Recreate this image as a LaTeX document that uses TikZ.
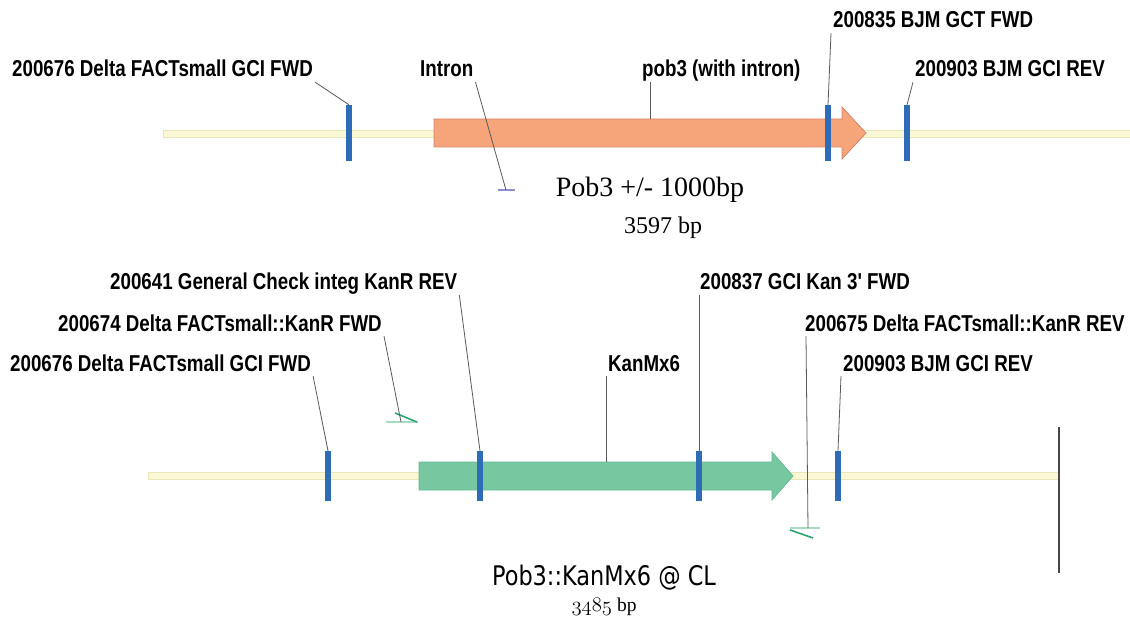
\documentclass[tikz,border=0pt]{standalone}
\usepackage{fontspec}
\setmainfont{Liberation Serif}
\newfontfamily\featfont[FakeStretch=0.815]{Liberation Sans}
\newfontfamily\constructfont[FakeStretch=0.83]{DejaVu Sans}
\usetikzlibrary{calc}
\definecolor{backbone}{HTML}{FBF8D6}
\definecolor{backline}{HTML}{EAE6BA}
\definecolor{pobfill}{HTML}{F6A57B}
\definecolor{pobline}{HTML}{D9826A}
\definecolor{kanfill}{HTML}{77C7A1}
\definecolor{kanline}{HTML}{63BB90}
\definecolor{barblue}{HTML}{2E6DB6}
\definecolor{leadgray}{HTML}{5A5A5A}
\definecolor{tickblue}{HTML}{8F8FD0}
\definecolor{primdark}{HTML}{2BA56B}
\definecolor{primlight}{HTML}{A8DCC0}

\tikzset{
  feat/.style={font=\featfont\bfseries\fontsize{23}{26}\selectfont, inner sep=2pt, text depth=3pt},
  bar/.style={rectangle, fill=barblue, inner sep=0pt, minimum width=6pt, minimum height=56pt},
  leader/.style={draw=leadgray, line width=0.8pt},
  track/.style={fill=backbone, draw=backline, line width=0.8pt}
}

\begin{document}
\begin{tikzpicture}[x=1pt, y=-1pt]
  \useasboundingbox (0,0) rectangle (1130,628);

  % Pob3 +/- 1000bp
  \draw[track] (163,130) rectangle (1134,137);
  \draw[fill=pobfill, draw=pobline, line width=0.8pt]
    (434,119) -- (842,119) -- (842,107) -- (866,133) -- (842,159) -- (842,147) -- (434,147) -- cycle;
  \coordinate (pobtop) at (650,119);
  \node[bar] (m676) at (349,133) {};
  \node[bar] (m835) at (828,133) {};
  \node[bar] (m903) at (907,133) {};
  \node[rectangle, fill=tickblue, inner sep=0pt, minimum width=17pt, minimum height=1.5pt] (itick) at (506,190) {};

  \node[feat, anchor=base west] (t676) at (10,77) {200676 Delta FACTsmall GCI FWD};
  \node[feat, anchor=base west] (intron) at (418,77) {Intron};
  \node[feat, anchor=base west] (pob3) at (640,77) {pob3 (with intron)};
  \node[feat, anchor=base west] (t835) at (831,28) {200835 BJM GCT FWD};
  \node[feat, anchor=base west] (t903) at (913,77) {200903 BJM GCI REV};

  \draw[leader] (t676.south east) -- (m676.north);
  \draw[leader] (intron.south east) -- (itick.center);
  \draw[leader] (pob3.south -| pobtop) -- (pobtop);
  \draw[leader] (t835.south west) -- (m835.north);
  \draw[leader] (t903.south west) -- (m903.north);

  \node[font=\fontsize{28}{30}\selectfont] (pobname) at (650,190) {Pob3 +/- 1000bp};
  \node[font=\fontsize{24}{26}\selectfont] (poblen) at (663,228) {3597 bp};

  % Pob3::KanMx6
  \draw[track] (148,472) rectangle (1058,479);
  \draw[fill=kanfill, draw=kanline, line width=0.8pt]
    (419,462) -- (772,462) -- (772,452) -- (793,476) -- (772,500) -- (772,490) -- (419,490) -- cycle;
  \coordinate (kantop) at (606,462);
  \draw[line width=2pt, draw=leadgray!80!black] (1059,427) -- (1059,573);
  \begin{scope}[bar/.append style={minimum height=50pt}]
    \node[bar] (n676) at (328,476) {};
    \node[bar] (n641) at (480,476) {};
    \node[bar] (n837) at (699,476) {};
    \node[bar] (n903) at (838,476) {};
  \end{scope}

  \coordinate (p674) at (401,422);
  \draw[primlight, line width=1.2pt] (386,422) -- (418,422);
  \draw[primdark, line width=1.6pt] (395,413) -- (417,422);
  \coordinate (p675) at (808,528);
  \draw[primlight, line width=1.2pt] (790,528) -- (820,528);
  \draw[primdark, line width=1.6pt] (790,530) -- (813,538);

  \node[feat, anchor=base west] (b641) at (108,290) {200641 General Check integ KanR REV};
  \node[feat, anchor=base west] (b674) at (56,331) {200674 Delta FACTsmall::KanR FWD};
  \node[feat, anchor=base west] (b676) at (8,371) {200676 Delta FACTsmall GCI FWD};
  \node[feat, anchor=base west] (kan) at (606,371) {KanMx6};
  \node[feat, anchor=base west] (b837) at (698,290) {200837 GCI Kan 3' FWD};
  \node[feat, anchor=base west] (b675) at (803,331) {200675 Delta FACTsmall::KanR REV};
  \node[feat, anchor=base west] (b903) at (841,371) {200903 BJM GCI REV};

  \draw[leader] (b641.south east) -- (n641.north);
  \draw[leader] (b674.south east) -- (p674);
  \draw[leader] (b676.south east) -- (n676.north);
  \draw[leader] (kan.south -| kantop) -- (kantop);
  \draw[leader] (b837.south -| n837) -- (n837.north);
  \draw[leader] ($(b675.south west)+(3,0)$) -- (p675);
  \draw[leader] (b903.south west) -- (n903.north);

  \node[font=\constructfont\fontsize{27}{29}\selectfont] (kanname) at (604,578) {Pob3::KanMx6 @ CL};
  \node[font=\fontsize{19.5}{22}\selectfont] (kanlen) at (604,607) {{\usefont{OML}{cmm}{m}{it}3485} bp};
\end{tikzpicture}
\end{document}
